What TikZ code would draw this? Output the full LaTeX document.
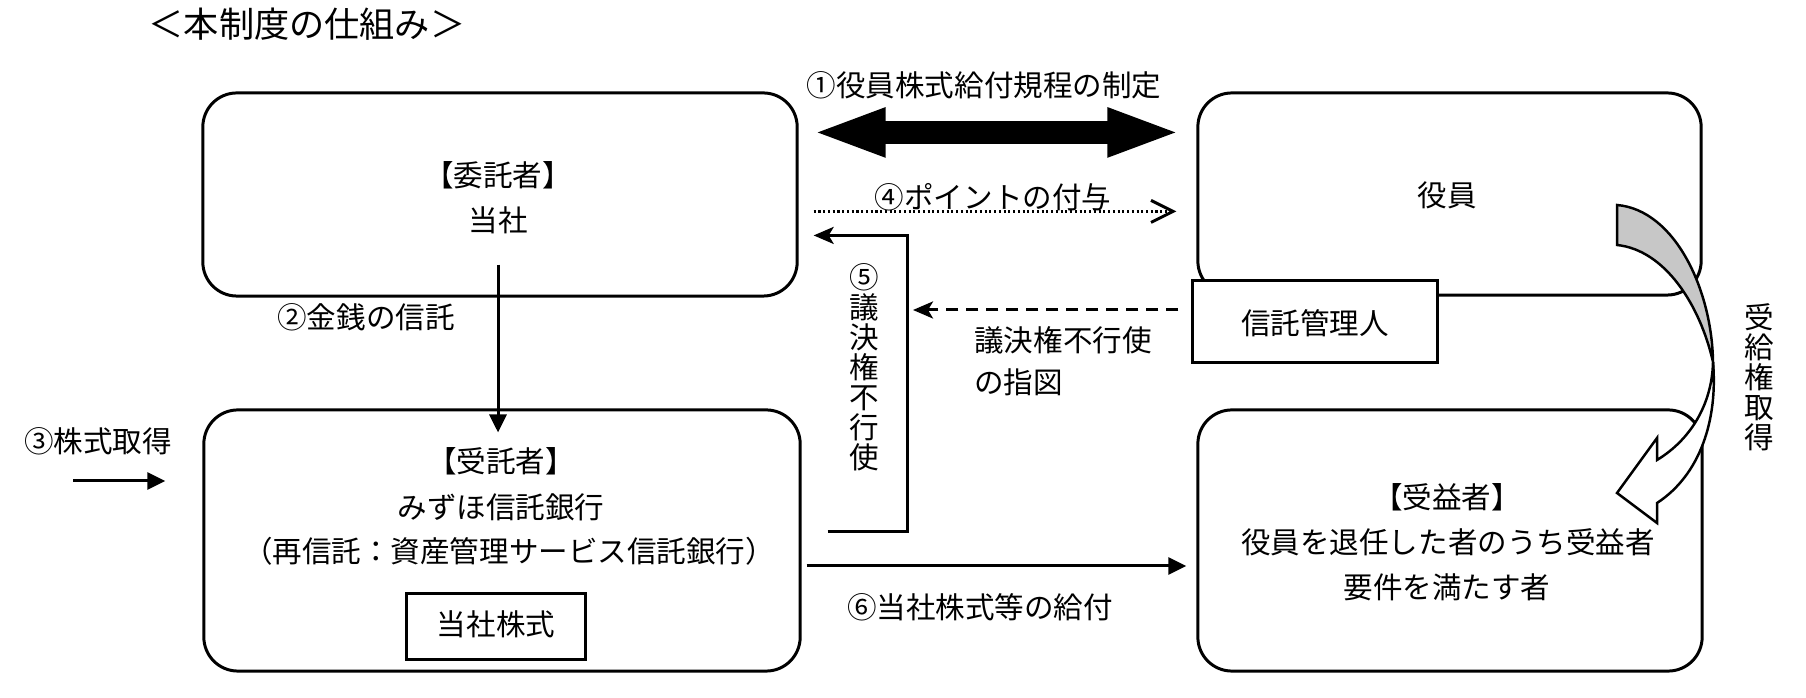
\documentclass[tikz,border=0pt]{standalone}
\usepackage{fontspec}
\newfontfamily\jp{Noto Sans CJK JP}
\usetikzlibrary{arrows.meta}

\tikzset{
  rbox/.style={draw, line width=0.85pt, rounded corners=0.34cm, fill=white, inner sep=0pt},
  sbox/.style={draw, line width=0.85pt, fill=white, inner sep=0pt},
  arr/.style={line width=0.85pt, -{Triangle[length=0.18cm,width=0.17cm]}},
  back/.style={line width=0.85pt, -{Stealth[length=0.2cm,width=0.17cm,inset=0.05cm]}},
}

\begin{document}
\begin{tikzpicture}[x=0.01cm, y=-0.01cm, font=\jp\fontsize{8.4pt}{8.54pt}\selectfont]
      \useasboundingbox (0,0) rectangle (1806,698);

      \node[font=\jp\fontsize{10pt}{11pt}\selectfont] (title) at (307,24) {＜本制度の仕組み＞};

      \node[rbox, minimum width=5.94cm, minimum height=2.03cm] (itaku) at (500,194.5) {};
      \node[rbox, minimum width=5.03cm, minimum height=2.02cm] (yakuin) at (1449.5,194) {};
      \node[rbox, minimum width=5.96cm, minimum height=2.61cm] (jutaku) at (502,540.5) {};
      \node[rbox, minimum width=5.04cm, minimum height=2.61cm] (jueki) at (1450,540.5) {};
      \node[sbox, minimum width=2.44cm, minimum height=0.81cm] (kanri) at (1315,321.5) {};
      \node[sbox, minimum width=1.78cm, minimum height=0.65cm] (kabu) at (496,626.5) {};

      \node at (498,175) {【委託者】};
      \node at (498,220) {当社};
      \node at (1447,195) {役員};
      \node at (1315,323) {信託管理人};
      \node at (501,461) {【受託者】};
      \node at (501,507) {みずほ信託銀行};
      \node at (509,551) {（再信託：資産管理サービス信託銀行）};
      \node at (496,624) {当社株式};
      \node at (1447,497) {【受益者】};
      \node at (1448,542) {役員を退任した者のうち受益者};
      \node at (1447,587) {要件を満たす者};

      % (1)
      \draw[line width=0.23cm, {Triangle[length=0.74cm,width=0.44cm]}-{Triangle[length=0.74cm,width=0.44cm]}]
        ([shift={(13,41)}]itaku.north east) -- ([shift={(-15,41)}]yakuin.north west);
      \node (l1) at (984,85) {①役員株式給付規程の制定};

      % (2)
      \draw[arr] ([shift={(-2,-33)}]itaku.south) -- ([shift={(-4,24)}]jutaku.north);
      \node (l2) at (366,317) {②金銭の信託};

      % (3)
      \draw[arr] ([shift={(-129,-59.5)}]jutaku.west) -- ([shift={(-37,-59.5)}]jutaku.west);
      \node (l3) at (98,441) {③株式取得};

      % (4)
      \draw[line width=0.75pt, dash pattern=on 0.6pt off 0.75pt,
            -{Straight Barb[length=0.22cm,width=0.22cm,line width=0.85pt]}]
        ([shift={(15,120)}]itaku.north east) -- ([shift={(-20,120)}]yakuin.north west);
      \node (l4) at (993,197) {④ポイントの付与};

      % (5)
      \draw[back] ([shift={(26,123)}]jutaku.north east) -- ++(80,0) |- ([shift={(15,144)}]itaku.north east);
      \node[align=center] (l5) at (864,367) {⑤\\議\\決\\権\\不\\行\\使};

      \coordinate (votetip) at (913,310);
      \draw[back, dash pattern=on 0.12cm off 0.08cm] ([shift={(-13,-11.5)}]kanri.west) -- (votetip);
      \node[anchor=west, align=left, font=\jp\fontsize{8.4pt}{11.9pt}\selectfont] (lv) at (962,361) {議決権不行使\\の指図};

      % (6)
      \draw[arr] ([shift={(5,25.5)}]jutaku.east) -- ([shift={(-10,25.5)}]jueki.west);
      \node (l6) at (980,607) {⑥当社株式等の給付};

      \filldraw[fill=black!22, line width=0.7pt] (1617,205) .. controls (1675,210) and (1712,290) .. (1713,362)
        .. controls (1700,305) and (1665,250) .. (1617,245) -- cycle;
      \filldraw[fill=white, line width=0.7pt] (1713,362) .. controls (1712,405) and (1690,440) .. (1657,460)
        -- (1657,438) -- (1617,493) -- (1657,523) -- (1657,503) .. controls (1700,475) and (1718,420) .. (1713,362) -- cycle;
      \node[align=center] (lk) at (1759,377) {受\\給\\権\\取\\得};

    \end{tikzpicture}
\end{document}
